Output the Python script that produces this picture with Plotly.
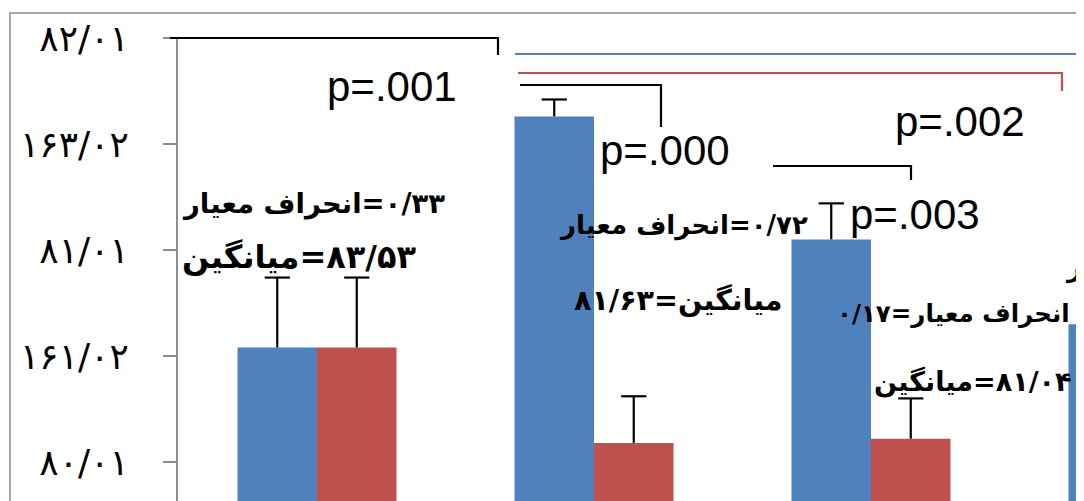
import plotly.graph_objects as go

# ---- data ----
groups = [0, 1, 2, 3]
blue_vals = [80.55, 81.64, 81.06, 80.66]
blue_err = [0.33, 0.08, 0.17, 0.0]
red_groups = [0, 1, 2]
red_vals = [80.55, 80.10, 80.12]
red_err = [0.33, 0.22, 0.19]
tick_vals = [80.01, 80.51, 81.01, 81.51, 82.01]
tick_text = ["۸۰/۰۱", "۱۶۱/۰۲", "۸۱/۰۱", "۱۶۳/۰۲", "۸۲/۰۱"]
p_texts = ["p=.001", "p=.000", "p=.002", "p=.003"]

LRM = "\u200e"
label_texts = [
    "انحراف معیار" + LRM + "=۰/۳۳",
    "میانگین" + LRM + "=۸۳/۵۳",
    "انحراف معیار" + LRM + "=۰/۷۲",
    "میانگین=۸۱/۶۳",
    "انحراف معیار=۰/۱۷",
    "میانگین" + LRM + "=۸۱/۰۴",
    "انحراف معیار",
]

BLUE = "#4F81BD"
RED = "#C0504D"
BARGAP = 0.426

# page is offset by the 8px body margin of the html page
OFF = 8
W_PX, H_PX = 1084, 501
L, T = 178, 38            # plot-area corner in page pixels
PW, PH = W_PX - L, H_PX - T


def px(x):
    return (x - L) / PW


def py(y):
    return 1 - (y - T) / PH


half = (1 - BARGAP) / 4.0   # offset of each bar centre inside its group

fig = go.Figure()
for xs, vals, errs, col, sign in [(groups, blue_vals, blue_err, BLUE, -1),
                                  (red_groups, red_vals, red_err, RED, 1)]:
    fig.add_trace(go.Bar(
        x=xs, y=vals, marker=dict(color=col, line=dict(width=0)),
        error_y=dict(type="data", array=errs, arrayminus=[0] * len(errs),
                     symmetric=False, color="black", thickness=2.2, width=0),
        showlegend=False, hoverinfo="skip",
    ))
for xs, vals, errs, sign in [(groups, blue_vals, blue_err, -1),
                             (red_groups, red_vals, red_err, 1)]:
    fig.add_trace(go.Scatter(
        x=[g + sign * half for g in xs], y=[v + e for v, e in zip(vals, errs)],
        mode="markers", showlegend=False, hoverinfo="skip",
        marker=dict(symbol="line-ew", size=18, color="black",
                    line=dict(width=2.2, color="black")),
    ))

y_lo = 82.01 - PH / 212.0
fig.update_layout(
    width=W_PX - OFF, height=H_PX - OFF,
    margin=dict(l=L - OFF, r=0, t=T - OFF, b=0, pad=0),
    paper_bgcolor="white", plot_bgcolor="white",
    barmode="group", bargap=BARGAP, bargroupgap=0,
    showlegend=False,
    xaxis=dict(range=[(L - 317) / 277.0, (W_PX - 317) / 277.0], showticklabels=False,
               showline=False, zeroline=False, showgrid=False, ticks=""),
    yaxis=dict(range=[y_lo, 82.01], tickvals=tick_vals, ticktext=tick_text,
               showline=True, linecolor="#8c8c8c", linewidth=2,
               ticks="outside", ticklen=13, tickwidth=2, tickcolor="#8c8c8c",
               showgrid=False, zeroline=False, ticklabelstandoff=27,
               tickfont=dict(family="DejaVu Sans", size=36, color="black")),
)

shapes = []
# outer grey frame
shapes.append(dict(type="path", xref="paper", yref="paper",
                   path=f"M {px(10)},{py(600)} V {py(13)} H {px(1200)}",
                   line=dict(color="#a6a6a6", width=2)))
# brackets
brackets = [
    (170, 38, 498, 55, "black"),
    (518, 73, 1062, 91, RED),
    (520, 85, 661, 127, "black"),
    (773, 166, 911, 180, "black"),
]
for x0, y0, x1, y1, c in brackets:
    shapes.append(dict(type="path", xref="paper", yref="paper",
                       path=f"M {px(x0)},{py(y0)} H {px(x1)} V {py(y1)}",
                       line=dict(color=c, width=2.2)))
shapes.append(dict(type="line", xref="paper", yref="paper",
                   x0=px(515), x1=px(1200), y0=py(54), y1=py(54),
                   line=dict(color=BLUE, width=2.2)))
fig.update_layout(shapes=shapes)

annotations = []
p_pos = [(325, 87), (598, 150), (893, 122), (848, 214)]
for t, (x, y) in zip(p_texts, p_pos):
    annotations.append(dict(text=t, x=px(x), y=py(y), xref="paper", yref="paper",
                            xanchor="left", yanchor="middle", showarrow=False,
                            font=dict(family="Liberation Sans", size=42, color="black")))
lab_pos = [(180, 203), (180, 257), (557, 225), (572, 300), (835, 313), (872, 382), (1063, 268)]
lab_size = [27.5, 32, 26, 28.5, 24.5, 27, 26]
for t, (x, y), s in zip(label_texts, lab_pos, lab_size):
    annotations.append(dict(text=t, x=px(x), y=py(y), xref="paper", yref="paper",
                            xanchor="left", yanchor="middle", showarrow=False,
                            font=dict(family="DejaVu Sans", size=s, color="black", weight="bold")))
fig.update_layout(annotations=annotations)

fig.write_html("out.html")
